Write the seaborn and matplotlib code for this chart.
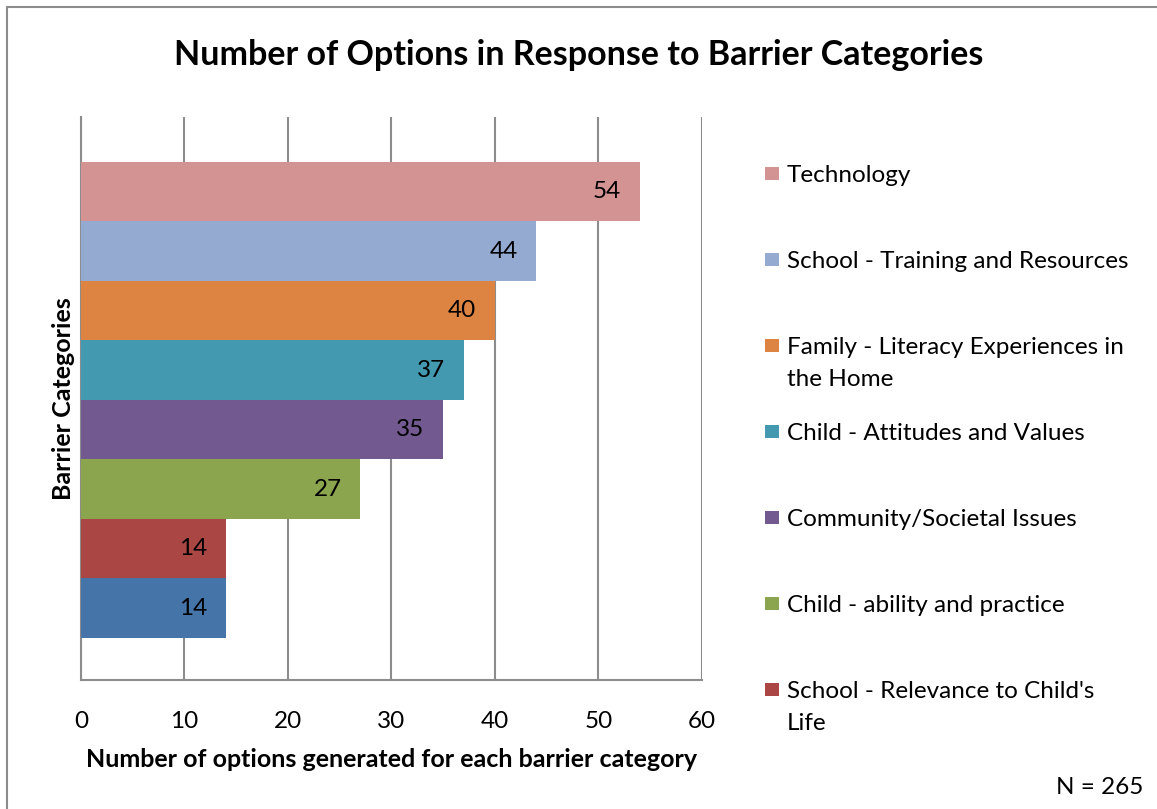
import matplotlib
matplotlib.use("Agg")
import matplotlib.pyplot as plt
from matplotlib.lines import Line2D
from matplotlib.patches import Rectangle
import seaborn as sns
import pandas as pd

categories = [
    "Technology",
    "School - Training and Resources",
    "Family - Literacy Experiences in\nthe Home",
    "Child - Attitudes and Values",
    "Community/Societal Issues",
    "Child - ability and practice",
    "School - Relevance to Child's\nLife",
    "Other",
]
values = [54, 44, 40, 37, 35, 27, 14, 14]
colors = ["#D29392", "#94AAD0", "#DE8443", "#4299B0", "#72598F", "#8BA54E", "#AA4745", "#4574A8"]
legend_count = 7
x_ticks = [0, 10, 20, 30, 40, 50, 60]

sns.set_theme(style="white")
plt.rcParams["font.family"] = ["Lato", "DejaVu Sans"]
plt.rcParams["text.color"] = "black"
plt.rcParams["axes.labelcolor"] = "black"
plt.rcParams["xtick.color"] = "black"
plt.rcParams["ytick.color"] = "black"

df = pd.DataFrame({"cat": categories, "val": values})

W, H = 1157, 809
fig = plt.figure(figsize=(W / 100, H / 100), dpi=100)
ax = fig.add_axes([81 / W, 1 - 680 / H, (702 - 81) / W, (680 - 117) / H])

sns.barplot(data=df, x="val", y="cat", hue="cat", palette=colors, order=categories,
            hue_order=categories, width=1.0, orient="h", legend=False, ax=ax,
            saturation=1, linewidth=0, zorder=3)

ax.set_xlim(0, 60)
ax.set_ylim(8.206, -1.256)
ax.set_xticks(x_ticks)
ax.set_xticklabels([str(t) for t in x_ticks], fontsize=17.5)
ax.tick_params(axis="x", length=0, pad=22)
ax.set_yticks([])
ax.grid(axis="x", color="#8C8C8C", linewidth=1.5, zorder=0)
ax.set_axisbelow(True)
for side in ["top", "right"]:
    ax.spines[side].set_visible(False)
for side in ["left", "bottom"]:
    ax.spines[side].set_color("#8C8C8C")
    ax.spines[side].set_linewidth(1.5)

for i, v in enumerate(values):
    ax.text(v - 1.8, i, str(v), ha="right", va="center", fontsize=17.5, color="black", zorder=4)

ax.set_xlabel("Number of options generated for each barrier category", fontsize=18,
              fontweight="bold", labelpad=12)
ax.set_ylabel("Barrier Categories", fontsize=18, fontweight="bold", labelpad=4)

fig.text(579 / W, 1 - 55 / H, "Number of Options in Response to Barrier Categories",
         ha="center", va="center", fontsize=24.5, fontweight="bold")

# legend (drawn entry by entry to match the original spacing)
for i in range(legend_count):
    yc = 174 + 86 * i
    fig.add_artist(Rectangle((765 / W, 1 - (yc + 6) / H), 14 / W, 13 / H,
                             transform=fig.transFigure, facecolor=colors[i], edgecolor="none"))
    fig.text(787 / W, 1 - (yc - 9) / H, categories[i], ha="left", va="top",
             fontsize=17.5, linespacing=1.65)

fig.text(1143 / W, 1 - 788 / H, "N = 265", ha="right", va="center", fontsize=17.5)

fig.add_artist(Line2D([7 / W, 7 / W], [0, 1 - 7 / H], transform=fig.transFigure,
                      color="#8C8C8C", linewidth=1.5))
fig.add_artist(Line2D([7 / W, 1], [1 - 7 / H, 1 - 7 / H], transform=fig.transFigure,
                      color="#8C8C8C", linewidth=1.5))

fig.savefig("out.png", dpi=100, facecolor="white")
